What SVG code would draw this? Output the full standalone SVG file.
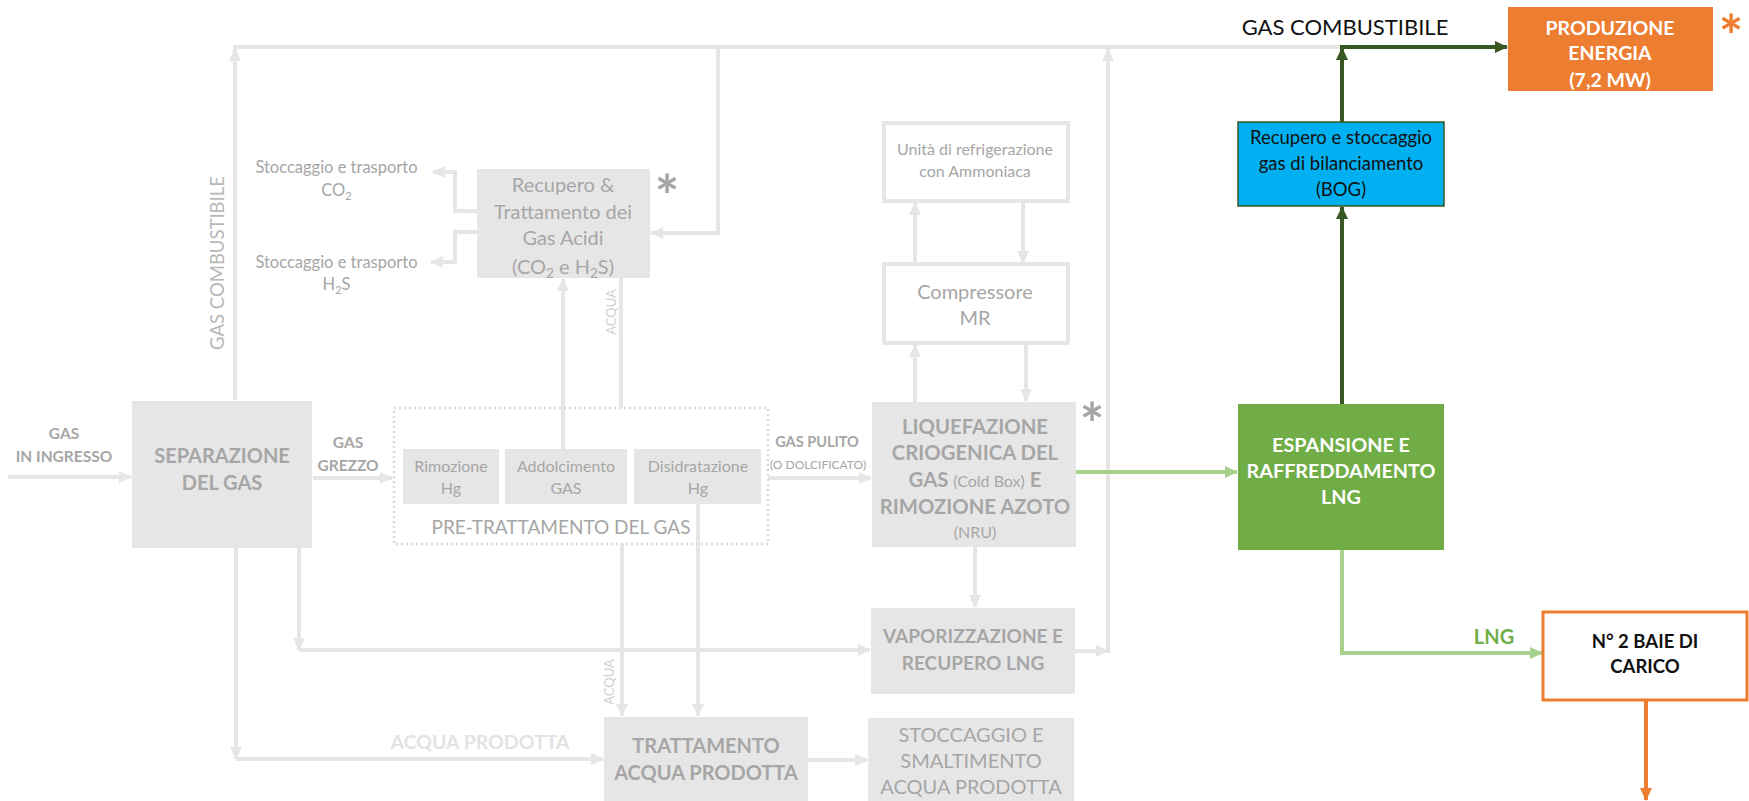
<svg xmlns="http://www.w3.org/2000/svg" width="1749" height="801" viewBox="0 0 1749 801">
<style>
text{font-family:Lato,"Open Sans","Liberation Sans",sans-serif;text-anchor:middle}
.g{fill:#A6A6A6}
.b{font-weight:bold}
.box{fill:#E7E6E6}
.wbox{fill:#FFFFFF;stroke:#E7E6E6;stroke-width:4}
.ln{fill:none;stroke:#E7E6E6;stroke-width:4}
.lg{fill:none;stroke:#A9D18E;stroke-width:4}
.dg{fill:none;stroke:#385723;stroke-width:4}
.or{fill:none;stroke:#ED7D31;stroke-width:4}
</style>
<defs>
<marker id="ag" markerUnits="userSpaceOnUse" markerWidth="14" markerHeight="14" refX="12" refY="7" orient="auto"><path d="M0,1 L13,7 L0,13 Z" fill="#E7E6E6"/></marker>
<marker id="alg" markerUnits="userSpaceOnUse" markerWidth="14" markerHeight="14" refX="12" refY="7" orient="auto"><path d="M0,1 L13,7 L0,13 Z" fill="#A9D18E"/></marker>
<marker id="adg" markerUnits="userSpaceOnUse" markerWidth="14" markerHeight="14" refX="12" refY="7" orient="auto"><path d="M0,1 L13,7 L0,13 Z" fill="#385723"/></marker>
<marker id="aor" markerUnits="userSpaceOnUse" markerWidth="14" markerHeight="14" refX="12" refY="7" orient="auto"><path d="M0,1 L13,7 L0,13 Z" fill="#ED7D31"/></marker>
</defs>

<g id="connectors">
<path class="ln" d="M8,477 H131" marker-end="url(#ag)"/>
<path class="ln" d="M313,478 H392" marker-end="url(#ag)"/>
<path class="ln" d="M768,478 H871" marker-end="url(#ag)"/>
<path class="ln" d="M235,400 V49" marker-end="url(#ag)"/>
<path class="ln" d="M233,47 H1342"/>
<path class="ln" d="M718,47 V233 H651" marker-end="url(#ag)"/>
<path class="ln" d="M477,211 H455 V172 H433" marker-end="url(#ag)"/>
<path class="ln" d="M477,232 H455 V262 H431" marker-end="url(#ag)"/>
<path class="ln" d="M563,449 V279" marker-end="url(#ag)"/>
<path class="ln" d="M621,278 V408"/>
<path class="ln" d="M622,544 V716" marker-end="url(#ag)"/>
<path class="ln" d="M698,503 V716" marker-end="url(#ag)"/>
<path class="ln" d="M236,547 V759" marker-end="url(#ag)"/>
<path class="ln" d="M236,759 H603" marker-end="url(#ag)"/>
<path class="ln" d="M299,547 V650" marker-end="url(#ag)"/>
<path class="ln" d="M299,650 H870" marker-end="url(#ag)"/>
<path class="ln" d="M915,402 V345" marker-end="url(#ag)"/>
<path class="ln" d="M1026,343 V401" marker-end="url(#ag)"/>
<path class="ln" d="M915,264 V203" marker-end="url(#ag)"/>
<path class="ln" d="M1023,201 V263" marker-end="url(#ag)"/>
<path class="ln" d="M975,547 V607" marker-end="url(#ag)"/>
<path class="ln" d="M1075,651 H1108" marker-end="url(#ag)"/>
<path class="ln" d="M1108,653 V49" marker-end="url(#ag)"/>
<path class="ln" d="M808,760 H867" marker-end="url(#ag)"/>
<path class="lg" d="M1076,472 H1237" marker-end="url(#alg)"/>
<path class="lg" d="M1342,550 V653 H1542" marker-end="url(#alg)"/>
<path class="dg" d="M1342,404 V207" marker-end="url(#adg)"/>
<path class="dg" d="M1342,122 V48" marker-end="url(#adg)"/>
<path class="dg" d="M1340,47 H1507" marker-end="url(#adg)"/>
<path class="or" d="M1646,700 V800" marker-end="url(#aor)"/>
</g>

<g id="labels">
<text x="64" y="438.5" class="g b" font-size="15.5">GAS</text>
<text x="64" y="461.5" class="g b" font-size="15.5">IN INGRESSO</text>
<text x="348" y="447.5" class="g b" font-size="15.5">GAS</text>
<text x="348" y="470.5" class="g b" font-size="15.5">GREZZO</text>
<text x="817" y="447" class="g b" font-size="14.5">GAS PULITO</text>
<text x="818" y="469" class="g" font-size="12">(O DOLCIFICATO)</text>
<text transform="translate(223.5,263) rotate(-90)" fill="#B8B8B8" font-size="18.5">GAS COMBUSTIBILE</text>
<text x="336.5" y="172.5" class="g" font-size="16.5">Stoccaggio e trasporto</text>
<text x="336.5" y="196" class="g" font-size="16.5">CO<tspan font-size="11" dy="4">2</tspan></text>
<text x="336.5" y="267.5" class="g" font-size="16.5">Stoccaggio e trasporto</text>
<text x="336.5" y="290" class="g" font-size="16.5">H<tspan font-size="11" dy="4">2</tspan><tspan dy="-4">S</tspan></text>
<text transform="translate(615.5,312) rotate(-90)" fill="#D0D0D0" font-size="13">ACQUA</text>
<text transform="translate(613.5,682) rotate(-90)" fill="#D0D0D0" font-size="13">ACQUA</text>
<text x="480" y="749" fill="#E3E3E3" class="b" font-size="19.5">ACQUA PRODOTTA</text>
<text x="1345" y="35" fill="#111111" font-size="22">GAS COMBUSTIBILE</text>
<text x="1494" y="644" fill="#70AD47" class="b" font-size="20">LNG</text>
</g>

<g id="separazione">
<rect class="box" x="132" y="401" width="180" height="147"/>
<text x="222" y="463" class="g b" font-size="20">SEPARAZIONE</text>
<text x="222" y="490" class="g b" font-size="20">DEL GAS</text>
</g>

<g id="gas-acidi">
<rect class="box" x="477" y="169" width="173" height="109"/>
<text x="563" y="192" class="g" font-size="20">Recupero &amp;</text>
<text x="563" y="219" class="g" font-size="20">Trattamento dei</text>
<text x="563" y="245" class="g" font-size="20">Gas Acidi</text>
<text x="563" y="274" class="g" font-size="20">(CO<tspan font-size="13.5" dy="4">2</tspan><tspan dy="-4"> e H</tspan><tspan font-size="13.5" dy="4">2</tspan><tspan dy="-4">S)</tspan></text>
<text x="667" y="217" class="g b" font-size="58">*</text>
</g>

<g id="pre-trattamento">
<rect x="394" y="408" width="374" height="136" fill="none" stroke="#D9D9D9" stroke-width="2.5" stroke-dasharray="2 3"/>
<text x="561" y="534" class="g" font-size="19">PRE-TRATTAMENTO DEL GAS</text>
</g>

<g id="rimozione-hg">
<rect class="box" x="403" y="449" width="96" height="55"/>
<text x="451" y="472" class="g" font-size="16">Rimozione</text>
<text x="451" y="494" class="g" font-size="16">Hg</text>
</g>

<g id="addolcimento">
<rect class="box" x="505" y="449" width="122" height="55"/>
<text x="566" y="472" class="g" font-size="16">Addolcimento</text>
<text x="566" y="494" class="g" font-size="16">GAS</text>
</g>

<g id="disidratazione">
<rect class="box" x="634" y="449" width="127" height="55"/>
<text x="698" y="472" class="g" font-size="16">Disidratazione</text>
<text x="698" y="494" class="g" font-size="16">Hg</text>
</g>

<g id="liquefazione">
<rect class="box" x="872" y="402" width="204" height="145"/>
<text x="975" y="434" class="g b" font-size="20.3">LIQUEFAZIONE</text>
<text x="975" y="460" class="g b" font-size="20.3">CRIOGENICA DEL</text>
<text x="975" y="487" class="g b" font-size="20.3">GAS <tspan font-weight="normal" font-size="16">(Cold Box)</tspan> E</text>
<text x="975" y="514" class="g b" font-size="20.3">RIMOZIONE AZOTO</text>
<text x="975" y="537.5" class="g" font-size="16">(NRU)</text>
<text x="1092" y="445" class="g b" font-size="58">*</text>
</g>

<g id="compressore">
<rect class="wbox" x="884" y="264" width="184" height="79"/>
<text x="975" y="299" class="g" font-size="20">Compressore</text>
<text x="975" y="325" class="g" font-size="20">MR</text>
</g>

<g id="refrigerazione">
<rect class="wbox" x="884" y="123" width="184" height="78"/>
<text x="975" y="155" class="g" font-size="16">Unità di refrigerazione</text>
<text x="975" y="177" class="g" font-size="16">con Ammoniaca</text>
</g>

<g id="vaporizzazione">
<rect class="box" x="871" y="608" width="204" height="86"/>
<text x="973" y="643" class="g b" font-size="19">VAPORIZZAZIONE E</text>
<text x="973" y="670" class="g b" font-size="19">RECUPERO LNG</text>
</g>

<g id="trattamento-acqua">
<rect class="box" x="604" y="717" width="204" height="84"/>
<text x="706" y="753" class="g b" font-size="20">TRATTAMENTO</text>
<text x="706" y="780" class="g b" font-size="20">ACQUA PRODOTTA</text>
</g>

<g id="stoccaggio-acqua">
<rect class="box" x="868" y="718" width="206" height="83"/>
<text x="971" y="742" class="g" font-size="20">STOCCAGGIO E</text>
<text x="971" y="768" class="g" font-size="20">SMALTIMENTO</text>
<text x="971" y="794" class="g" font-size="20">ACQUA PRODOTTA</text>
</g>

<g id="bog">
<rect x="1238" y="122" width="206" height="84" fill="#00B0F0" stroke="#385723" stroke-width="1.5"/>
<text x="1341" y="144" fill="#111111" font-size="18.5">Recupero e stoccaggio</text>
<text x="1341" y="170" fill="#111111" font-size="18.5">gas di bilanciamento</text>
<text x="1341" y="196" fill="#111111" font-size="18.5">(BOG)</text>
</g>

<g id="espansione">
<rect x="1238" y="404" width="206" height="146" fill="#70AD47"/>
<text x="1341" y="452" fill="#FFFFFF" class="b" font-size="19.8">ESPANSIONE E</text>
<text x="1341" y="478" fill="#FFFFFF" class="b" font-size="19.8">RAFFREDDAMENTO</text>
<text x="1341" y="504" fill="#FFFFFF" class="b" font-size="19.8">LNG</text>
</g>

<g id="produzione-energia">
<rect x="1508" y="7" width="205" height="84" fill="#ED7D31"/>
<text x="1610" y="35" fill="#FFFFFF" class="b" font-size="19.5">PRODUZIONE</text>
<text x="1610" y="60" fill="#FFFFFF" class="b" font-size="19.5">ENERGIA</text>
<text x="1610" y="87" fill="#FFFFFF" class="b" font-size="19.5">(7,2 MW)</text>
<text x="1731" y="57" fill="#ED7D31" class="b" font-size="58">*</text>
</g>

<g id="baie-carico">
<rect x="1543" y="612" width="204" height="88" fill="#FFFFFF" stroke="#ED7D31" stroke-width="3"/>
<text x="1645" y="648" fill="#111111" class="b" font-size="18.5">N° 2 BAIE DI</text>
<text x="1645" y="673" fill="#111111" class="b" font-size="18.5">CARICO</text>
</g>
</svg>
